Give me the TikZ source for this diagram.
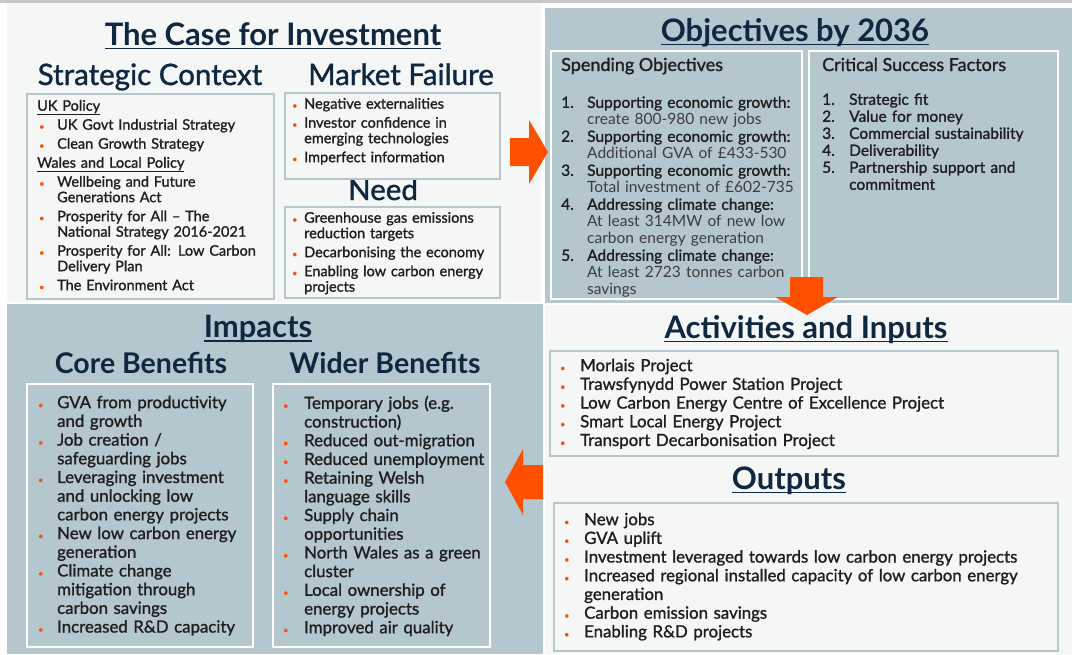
\documentclass[tikz,border=0pt]{standalone}
\usepackage{fontspec}
\setmainfont{Lato}
\newfontfamily\bodyfont{Lato}[Ligatures=TeX, FakeBold=1.2]
\newfontfamily\lightfont{Lato}[Ligatures=TeX]
\usepackage{xcolor}
\usetikzlibrary{positioning}
\definecolor{paper}{HTML}{F5F7F7}
\definecolor{slate}{HTML}{B4C7CF}
\definecolor{navy}{HTML}{0E2841}
\definecolor{ink}{HTML}{1E1E1E}
\definecolor{soft}{HTML}{3C3C3C}
\definecolor{flame}{HTML}{FF5000}
\definecolor{rule}{HTML}{C8C8C8}
\newlength{\itemind}
\newlength{\bulshift}
\newcommand{\dotmark}{{\color{flame}\fontsize{9}{9}\selectfont\textbullet}}
\newcommand{\bitem}[1]{\hangindent=\itemind\hangafter=1\noindent\makebox[\itemind][l]{\hspace{\bulshift}\dotmark}#1\par}
\newcommand{\nitem}[2]{\hangindent=\itemind\hangafter=1\noindent\makebox[\itemind][l]{#1}#2\par}
\tikzset{
  boxl/.style={draw=slate, line width=2.2pt, anchor=north west, inner sep=0pt},
  boxd/.style={draw=white, line width=2.2pt, anchor=north west, inner sep=0pt},
  title/.style={font=\fontsize{31}{33}\selectfont\bfseries, text=navy, anchor=base, inner sep=0pt},
  head/.style={font=\bodyfont\fontsize{29.5}{31}\selectfont, text=navy, anchor=base, inner sep=0pt},
  headb/.style={font=\fontsize{28.5}{30}\selectfont\bfseries, text=navy, anchor=base, inner sep=0pt},
  subhead/.style={font=\bodyfont\fontsize{18}{20}\selectfont, text=ink, anchor=base west, inner sep=0pt},
  uline/.style={draw=navy, line width=1.8pt},
  body/.style={anchor=north west, inner sep=0pt, align=left, text=ink},
  items/.style n args={3}{execute at begin node={\setlength{\itemind}{#1}\setlength{\bulshift}{#2}\setlength{\parskip}{#3}}},
  small/.style={font=\bodyfont\fontsize{14.5}{15.5}\selectfont},
  mid/.style={font=\bodyfont\fontsize{15.5}{17}\selectfont},
  big/.style={font=\bodyfont\fontsize{16.8}{18.7}\selectfont},
  blockarrow/.style={fill=flame},
}
\begin{document}
\begin{tikzpicture}[x=1pt,y=-1pt]
  \useasboundingbox (0,0) rectangle (1072,654);
  % panels
  \fill[white] (0,0) rectangle (1072,654);
  \fill[rule] (0,0) rectangle (1072,2.5);
  \fill[paper] (7,3) rectangle (541,302);
  \fill[slate] (545,8) rectangle (1072,303);
  \fill[slate] (7,304) rectangle (543,654);
  \fill[paper] (545,305) rectangle (1072,654);

  % The Case for Investment
  \node[title] (case) at (273,45) {The Case for Investment};
  \draw[uline] ([yshift=-3.5pt]case.base west) -- ([yshift=-3.5pt]case.base east);
  \node[head] (strat) at (150,85) {Strategic Context};
  \node[head] (market) at (401,85) {Market Failure};
  \node[head] (need) at (383,200) {Need};
  \node[boxl, minimum width=247pt, minimum height=205pt] (stratbox) at (26,93) {};
  \node[boxl, minimum width=215pt, minimum height=86pt] (marketbox) at (284,92) {};
  \node[boxl, minimum width=215pt, minimum height=91pt] (needbox) at (284,206) {};
  \node[body, small, text width=232pt, items={20pt}{2pt}{3.5pt}] (strattxt) at (37,99.8) {%
    \underline{UK Policy}\par
    \bitem{UK Govt Industrial Strategy}
    \bitem{Clean Growth Strategy}
    \underline{Wales and Local Policy}\par
    \bitem{Wellbeing and Future\newline Generations Act}
    \bitem{Prosperity for All – The\newline National Strategy 2016-2021}
    \bitem{Prosperity for All: Low Carbon\newline Delivery Plan}
    \bitem{The Environment Act}};
  \node[body, small, text width=205pt, items={12pt}{0pt}{3.5pt}] (markettxt) at (292,97.8) {%
    \bitem{Negative externalities}
    \bitem{Investor confidence in\newline emerging technologies}
    \bitem{Imperfect information}};
  \node[body, small, text width=205pt, items={12pt}{0pt}{3.5pt}] (needtxt) at (292,211.8) {%
    \bitem{Greenhouse gas emissions\newline reduction targets}
    \bitem{Decarbonising the economy}
    \bitem{Enabling low carbon energy\newline projects}};

  % Objectives by 2036
  \node[title] (obj) at (795,41) {Objectives by 2036};
  \draw[uline] ([yshift=-3.5pt]obj.base west) -- ([yshift=-3.5pt]obj.base east);
  \node[boxd, minimum width=251pt, minimum height=248pt] (spendbox) at (550,50) {};
  \node[boxd, minimum width=249pt, minimum height=248pt] (csfbox) at (808,50) {};
  \node[subhead] (spend) at (561,71) {Spending Objectives};
  \node[subhead] (csf) at (822,71) {Critical Success Factors};
  \node[body, mid, text width=236pt, items={26pt}{0pt}{0pt}] (spendtxt) at (561,96.2) {%
    \nitem{1.}{Supporting economic growth:\newline{\lightfont\color{soft}create 800-980 new jobs}}
    \nitem{2.}{Supporting economic growth:\newline{\lightfont\color{soft}Additional GVA of £433-530}}
    \nitem{3.}{Supporting economic growth:\newline{\lightfont\color{soft}Total investment of £602-735}}
    \nitem{4.}{Addressing climate change:\newline{\lightfont\color{soft}At least 314MW of new low\newline carbon energy generation}}
    \nitem{5.}{Addressing climate change:\newline{\lightfont\color{soft}At least 2723 tonnes carbon\newline savings}}};
  \node[body, mid, text width=232pt, items={27pt}{0pt}{0pt}] (csftxt) at (822,93.2) {%
    \nitem{1.}{Strategic fit}
    \nitem{2.}{Value for money}
    \nitem{3.}{Commercial sustainability}
    \nitem{4.}{Deliverability}
    \nitem{5.}{Partnership support and\newline commitment}};

  % Impacts
  \node[title] (imp) at (258,337) {Impacts};
  \draw[uline] ([yshift=-4pt]imp.base west) -- ([yshift=-4pt]imp.base east);
  \node[headb] (core) at (141,373) {Core Benefits};
  \node[headb] (wider) at (385,373) {Wider Benefits};
  \node[boxd, minimum width=226pt, minimum height=263pt] (corebox) at (26,383) {};
  \node[boxd, minimum width=217pt, minimum height=263pt] (widerbox) at (272,383) {};
  \node[body, big, text width=210pt, items={19pt}{0pt}{0pt}] (coretxt) at (38,395.6) {%
    \bitem{GVA from productivity\newline and growth}
    \bitem{Job creation /\newline safeguarding jobs}
    \bitem{Leveraging investment\newline and unlocking low\newline carbon energy projects}
    \bitem{New low carbon energy\newline generation}
    \bitem{Climate change\newline mitigation through\newline carbon savings}
    \bitem{Increased R\&D capacity}};
  \node[body, big, text width=205pt, items={21pt}{0pt}{0pt}] (widertxt) at (283,395.6) {%
    \bitem{Temporary jobs (e.g.\newline construction)}
    \bitem{Reduced out-migration}
    \bitem{Reduced unemployment}
    \bitem{Retaining Welsh\newline language skills}
    \bitem{Supply chain\newline opportunities}
    \bitem{North Wales as a green\newline cluster}
    \bitem{Local ownership of\newline energy projects}
    \bitem{Improved air quality}};

  % Activities and Inputs, Outputs
  \node[title] (act) at (806,338) {Activities and Inputs};
  \draw[uline] ([yshift=-3.5pt]act.base west) -- ([yshift=-3.5pt]act.base east);
  \node[boxl, minimum width=508pt, minimum height=105pt] (actbox) at (549,350) {};
  \node[body, big, text width=490pt, items={20pt}{0pt}{0pt}] (acttxt) at (560,358.6) {%
    \bitem{Morlais Project}
    \bitem{Trawsfynydd Power Station Project}
    \bitem{Low Carbon Energy Centre of Excellence Project}
    \bitem{Smart Local Energy Project}
    \bitem{Transport Decarbonisation Project}};
  \node[title] (out) at (789,489) {Outputs};
  \draw[uline] ([yshift=-3.5pt]out.base west) -- ([yshift=-3.5pt]out.base east);
  \node[boxl, minimum width=504pt, minimum height=148pt] (outbox) at (553,502) {};
  \node[body, big, text width=488pt, items={20pt}{0pt}{0pt}] (outtxt) at (564,512.6) {%
    \bitem{New jobs}
    \bitem{GVA uplift}
    \bitem{Investment leveraged towards low carbon energy projects}
    \bitem{Increased regional installed capacity of low carbon energy\newline generation}
    \bitem{Carbon emission savings}
    \bitem{Enabling R\&D projects}};

  % block arrows between the panels
  \fill[blockarrow] (510,138) -- (529,138) -- (529,120) -- (548,152) -- (529,184) -- (529,166) -- (510,166) -- cycle;
  \fill[blockarrow] (790,277) -- (823,277) -- (823,297) -- (838,297) -- (807,315) -- (775,297) -- (790,297) -- cycle;
  \fill[blockarrow] (543,465) -- (523,465) -- (523,449) -- (505,482) -- (523,515) -- (523,499) -- (543,499) -- cycle;
\end{tikzpicture}
\end{document}
